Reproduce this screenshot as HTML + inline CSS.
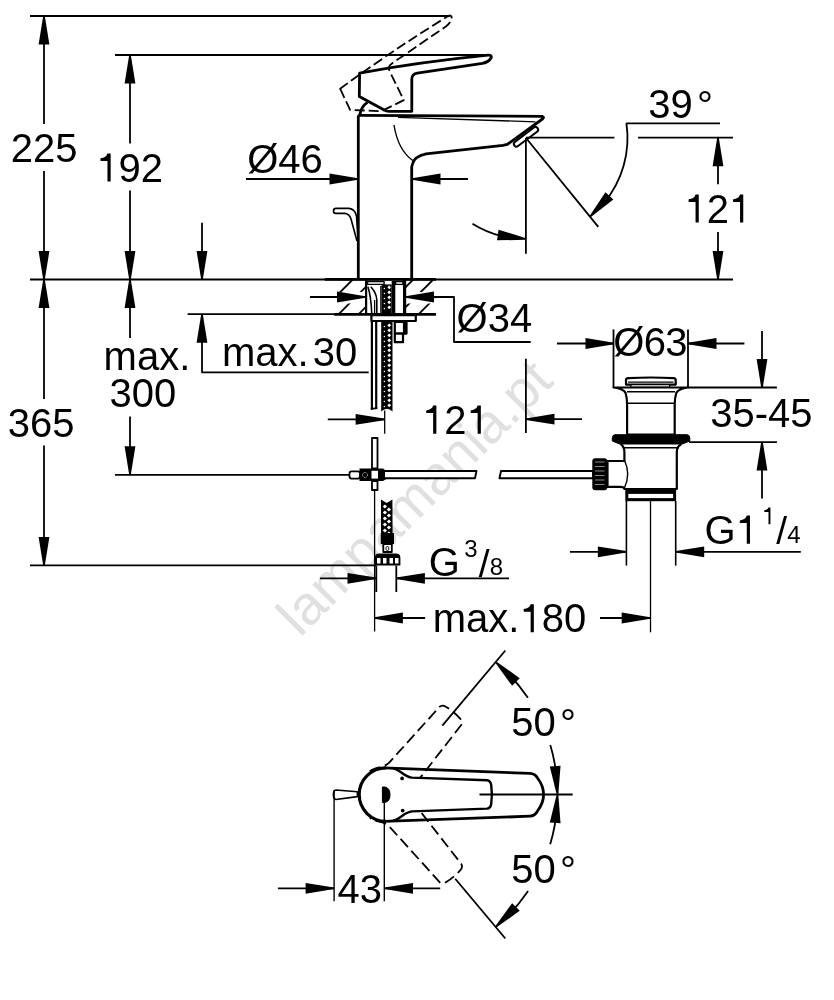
<!DOCTYPE html><html><head><meta charset="utf-8"><style>html,body{margin:0;padding:0;background:#fff;width:834px;height:1000px;overflow:hidden}svg{display:block;will-change:transform} text{font-family:"Liberation Sans",sans-serif;stroke:none}</style></head><body><svg width="834" height="1000" viewBox="0 0 834 1000"><rect width="834" height="1000" fill="#fff"/><text x="0" y="0" font-size="55" fill="#e0e0e0" stroke="none" transform="translate(300.1,638.1) rotate(-45)">lampamania.pt</text><g stroke="#000" fill="#000" stroke-linecap="butt" stroke-linejoin="round" font-family="Liberation Sans, sans-serif"><line x1="30" y1="16" x2="449.5" y2="16" stroke-width="1.8" /><line x1="115" y1="55" x2="489" y2="55" stroke-width="1.8" /><line x1="30" y1="279.5" x2="733" y2="279.5" stroke-width="1.8" /><line x1="115" y1="474.8" x2="350" y2="474.8" stroke-width="1.8" /><line x1="30" y1="565.4" x2="376" y2="565.4" stroke-width="1.8" /><line x1="44" y1="16" x2="44" y2="124" stroke-width="1.8" /><polygon points="44.80,16.00 49.40,44.50 38.60,44.50 43.20,16.00" stroke="none" fill="#000"/><line x1="44" y1="171" x2="44" y2="279.5" stroke-width="1.8" /><polygon points="43.20,279.50 38.60,251.00 49.40,251.00 44.80,279.50" stroke="none" fill="#000"/><line x1="44" y1="279.5" x2="44" y2="399" stroke-width="1.8" /><polygon points="44.80,279.50 49.40,308.00 38.60,308.00 43.20,279.50" stroke="none" fill="#000"/><line x1="44" y1="445.5" x2="44" y2="565.4" stroke-width="1.8" /><polygon points="43.20,565.40 38.60,536.90 49.40,536.90 44.80,565.40" stroke="none" fill="#000"/><line x1="130" y1="55" x2="130" y2="143.5" stroke-width="1.8" /><polygon points="130.80,55.00 135.40,83.50 124.60,83.50 129.20,55.00" stroke="none" fill="#000"/><line x1="130" y1="190.6" x2="130" y2="279.5" stroke-width="1.8" /><polygon points="129.20,279.50 124.60,251.00 135.40,251.00 130.80,279.50" stroke="none" fill="#000"/><line x1="130" y1="279.5" x2="130" y2="338" stroke-width="1.8" /><polygon points="130.80,279.50 135.40,308.00 124.60,308.00 129.20,279.50" stroke="none" fill="#000"/><line x1="130" y1="416.6" x2="130" y2="474.8" stroke-width="1.8" /><polygon points="129.20,474.80 124.60,446.30 135.40,446.30 130.80,474.80" stroke="none" fill="#000"/><line x1="202" y1="222.7" x2="202" y2="279.5" stroke-width="1.8" /><polygon points="201.20,279.50 196.60,251.00 207.40,251.00 202.80,279.50" stroke="none" fill="#000"/><line x1="187.6" y1="314.2" x2="334" y2="314.2" stroke-width="1.8" /><polyline points="202,314.2 202,372.3 368.7,372.3" fill="none" stroke-width="1.8" /><polygon points="202.80,314.20 207.40,342.70 196.60,342.70 201.20,314.20" stroke="none" fill="#000"/><text x="10.70" y="161.90" font-size="40">225</text><path stroke="none" fill="#000" d="M107.46,153.38 L110.66,153.38 L110.66,181.50 L107.46,181.50 L107.46,160.90 L100.62,160.90 Q100.22,159.58 100.62,158.22 Q106.30,157.70 107.46,153.38 Z"/><text x="118.55" y="181.50" font-size="40">92</text><text x="7.80" y="436.90" font-size="40">365</text><text x="103.60" y="370.20" font-size="40">max.</text><text x="109.40" y="406.50" font-size="40">300</text><text x="247.20" y="172.80" font-size="40">Ø46</text><text x="221.90" y="365.80" font-size="40">max.</text><text x="312.80" y="366.00" font-size="40">30</text><text x="456.60" y="332.30" font-size="40">Ø34</text><path stroke="none" fill="#000" d="M433.16,405.58 L436.36,405.58 L436.36,433.70 L433.16,433.70 L433.16,413.10 L426.32,413.10 Q425.92,411.78 426.32,410.42 Q432.00,409.90 433.16,405.58 Z"/><text x="444.25" y="433.70" font-size="40">2</text><path stroke="none" fill="#000" d="M477.65,405.58 L480.85,405.58 L480.85,433.70 L477.65,433.70 L477.65,413.10 L470.81,413.10 Q470.41,411.78 470.81,410.42 Q476.49,409.90 477.65,405.58 Z"/><text x="648.30" y="117.60" font-size="40">39</text><text x="697.10" y="119.00" font-size="40">°</text><path stroke="none" fill="#000" d="M695.56,194.48 L698.76,194.48 L698.76,222.60 L695.56,222.60 L695.56,202.00 L688.72,202.00 Q688.32,200.68 688.72,199.32 Q694.40,198.80 695.56,194.48 Z"/><text x="706.65" y="222.60" font-size="40">2</text><path stroke="none" fill="#000" d="M740.05,194.48 L743.25,194.48 L743.25,222.60 L740.05,222.60 L740.05,202.00 L733.21,202.00 Q732.81,200.68 733.21,199.32 Q738.89,198.80 740.05,194.48 Z"/><text x="613.30" y="356.40" font-size="40" letter-spacing="-0.7">Ø63</text><text x="710.20" y="427.30" font-size="40">35-45</text><text x="704.50" y="543.70" font-size="40">G</text><path stroke="none" fill="#000" d="M746.77,515.58 L749.97,515.58 L749.97,543.70 L746.77,543.70 L746.77,523.10 L739.93,523.10 Q739.53,521.78 739.93,520.42 Q745.61,519.90 746.77,515.58 Z"/><path stroke="none" fill="#000" d="M768.50,507.43 L770.42,507.43 L770.42,524.30 L768.50,524.30 L768.50,511.94 L764.39,511.94 Q764.15,511.15 764.39,510.33 Q767.80,510.02 768.50,507.43 Z"/><text x="776.30" y="543.70" font-size="39">/</text><text x="787.20" y="543.00" font-size="24">4</text><text x="428.80" y="576.40" font-size="40">G</text><text x="464.30" y="556.60" font-size="24">3</text><text x="478.80" y="576.60" font-size="39">/</text><text x="489.70" y="575.20" font-size="24">8</text><text x="432.80" y="632.30" font-size="40">max.</text><path stroke="none" fill="#000" d="M530.64,604.18 L533.84,604.18 L533.84,632.30 L530.64,632.30 L530.64,611.70 L523.80,611.70 Q523.40,610.38 523.80,609.02 Q529.48,608.50 530.64,604.18 Z"/><text x="541.73" y="632.30" font-size="40">80</text><text x="511.20" y="736.30" font-size="40">50</text><text x="560.10" y="737.10" font-size="40">°</text><text x="511.20" y="883.30" font-size="40">50</text><text x="560.10" y="884.10" font-size="40">°</text><text x="337.60" y="902.90" font-size="40">43</text><line x1="246" y1="179" x2="358" y2="179" stroke-width="1.8" /><polygon points="358.00,179.80 329.50,184.40 329.50,173.60 358.00,178.20" stroke="none" fill="#000"/><line x1="412" y1="179" x2="468" y2="179" stroke-width="1.8" /><polygon points="412.00,178.20 440.50,173.60 440.50,184.40 412.00,179.80" stroke="none" fill="#000"/><line x1="358.3" y1="115.3" x2="358.3" y2="279.5" stroke-width="2.8" /><path d="M543,116.3 L358.3,115.3" fill="none" stroke-width="2.8" /><path d="M398,117.4 L535.4,121.8" fill="none" stroke-width="1.3" /><path d="M541,116.3 Q545,116.8 542.5,119 L507.3,144.4 Q505,145 503,145.4 L426,153.8 Q414,156.5 412.5,164 L411.7,167 L411.7,279.5" fill="none" stroke-width="2.8" /><g transform="translate(526,136.8) rotate(-37)"><rect x="-14.5" y="-2.6" width="29" height="5.2" rx="2.6" fill="#fff" stroke-width="2"/></g><path d="M394,125 Q398,150 412.7,160.5" fill="none" stroke-width="1.4" /><path d="M359.6,73.1 L359.3,96.5 L383.8,109.8 Q386,111.3 389.2,111.3 L411.8,111.3 L411.8,79 Q412,73.8 417.3,73.1 L482.4,63.4 Q489,62 491.3,57.5 Q492,55 488,55.2 Q420,62 359.6,73.1 Z" fill="#fff" stroke-width="2.8" /><path d="M359.7,115 Q361.5,106 367.5,102.4" fill="none" stroke-width="2.8" /><path d="M359.6,73.1 L359.3,96.5 L383.8,109.8 Q386,111.3 389.2,111.3 L411.8,111.3 L411.8,79 Q412,73.8 417.3,73.1 L482.4,63.4 Q489,62 491.3,57.5 Q492,55 488,55.2 Q420,62 359.6,73.1 Z" fill="none" stroke-width="1.8" transform="rotate(-26 383.7 123.1)" stroke-dasharray="10 4"/><path d="M336,208.4 L349,208.4 Q355,209 356.5,216 L358.2,242" fill="none" stroke-width="1.6" /><path d="M336,213.4 L345,213.4 Q349.5,214 351,219 L357,241" fill="none" stroke-width="1.6" /><path d="M336,208.4 Q333.5,208.4 333.5,210.9 Q333.5,213.4 336,213.4" fill="none" stroke-width="1.6" /><line x1="525.9" y1="138" x2="525.9" y2="253.7" stroke-width="1.8" /><line x1="525.9" y1="137.7" x2="614.4" y2="137.7" stroke-width="1.8" /><line x1="638" y1="137.7" x2="733" y2="137.7" stroke-width="1.8" /><line x1="626.5" y1="123.3" x2="720" y2="123.3" stroke-width="1.8" /><line x1="526" y1="138" x2="598.3" y2="226.9" stroke-width="1.8" /><path d="M626.39,123.00 A101.5,101.5 0 0 1 603.75,203.24" fill="none" stroke-width="1.8" /><polygon points="589.43,216.22 605.44,192.20 613.36,199.55 590.60,217.31" stroke="none" fill="#000"/><path d="M472.48,223.65 A101,101 0 0 0 501.57,236.00" fill="none" stroke-width="1.8" /><polygon points="525.89,239.79 497.02,240.34 498.54,229.65 526.11,238.21" stroke="none" fill="#000"/><line x1="718" y1="137.7" x2="718" y2="184.3" stroke-width="1.8" /><polygon points="718.80,137.70 723.40,166.20 712.60,166.20 717.20,137.70" stroke="none" fill="#000"/><line x1="718" y1="232" x2="718" y2="279.5" stroke-width="1.8" /><polygon points="717.20,279.50 712.60,251.00 723.40,251.00 718.80,279.50" stroke="none" fill="#000"/><clipPath id="hl"><polygon points="324.8,279.3 366,279.3 366,314.3 334.1,314.3"/></clipPath><clipPath id="hr"><polygon points="403.5,279.3 436,279.3 436,314.3 403.5,314.3"/></clipPath><g clip-path="url(#hl)" stroke-width="1.8"><line x1="318" y1="314.3" x2="353" y2="279.3"/><line x1="338.5" y1="314.3" x2="373.5" y2="279.3"/><line x1="358.5" y1="314.3" x2="393.5" y2="279.3"/><line x1="378.5" y1="314.3" x2="413.5" y2="279.3"/><line x1="398.5" y1="314.3" x2="433.5" y2="279.3"/><line x1="418.5" y1="314.3" x2="453.5" y2="279.3"/><line x1="438.5" y1="314.3" x2="473.5" y2="279.3"/></g><g clip-path="url(#hr)" stroke-width="1.8"><line x1="318" y1="314.3" x2="353" y2="279.3"/><line x1="338.5" y1="314.3" x2="373.5" y2="279.3"/><line x1="358.5" y1="314.3" x2="393.5" y2="279.3"/><line x1="378.5" y1="314.3" x2="413.5" y2="279.3"/><line x1="398.5" y1="314.3" x2="433.5" y2="279.3"/><line x1="418.5" y1="314.3" x2="453.5" y2="279.3"/><line x1="438.5" y1="314.3" x2="473.5" y2="279.3"/></g><rect x="326" y="292" width="40" height="11.5" fill="#fff" stroke="none"/><rect x="405.5" y="292" width="30" height="11.5" fill="#fff" stroke="none"/><line x1="324.8" y1="279.3" x2="436" y2="279.3" stroke-width="2.8" /><line x1="334.1" y1="314.3" x2="436" y2="314.3" stroke-width="2.8" /><line x1="310" y1="297" x2="366" y2="297" stroke-width="1.8" /><polygon points="365.50,297.80 337.00,302.40 337.00,291.60 365.50,296.20" stroke="none" fill="#000"/><polyline points="405.5,297 454,297 454,342 530.7,342" fill="none" stroke-width="1.8" /><polygon points="405.50,296.20 434.00,291.60 434.00,302.40 405.50,297.80" stroke="none" fill="#000"/><line x1="366.1" y1="279.3" x2="366.1" y2="314.3" stroke-width="2.2" /><rect x="391.7" y="281" width="3.6" height="33.3" fill="#000" stroke="none"/><rect x="402.9" y="279.3" width="3.3" height="35" fill="#000" stroke="none"/><rect x="367.5" y="281.6" width="16.6" height="2.8" fill="#fff" stroke-width="1.4"/><rect x="395.6" y="281.6" width="7.3" height="2.8" fill="#fff" stroke-width="1.4"/><rect x="396" y="286.8" width="6.9" height="26" fill="#fff" stroke="none"/><path d="M367.9,286.8 Q371,296 371.8,314" fill="none" stroke-width="1.6" /><path d="M370.8,286.8 Q376.5,293 376.8,300 L376.8,314" fill="none" stroke-width="1.6" /><line x1="374.6" y1="300" x2="374.6" y2="314.3" stroke-width="1.3" /><line x1="380.9" y1="286" x2="380.9" y2="314.3" stroke-width="1.4" /><rect x="381.6" y="284.4" width="10.1" height="30" fill="#000" stroke="none"/><rect x="387.9" y="286" width="2.6" height="2.6" transform="rotate(45 389.2 287.3)" fill="#fff" stroke="none"/><circle cx="384.4" cy="288.5" r="0.75" fill="#fff" stroke="none"/><rect x="387.9" y="291" width="2.6" height="2.6" transform="rotate(45 389.2 292.3)" fill="#fff" stroke="none"/><circle cx="384.4" cy="293.5" r="0.75" fill="#fff" stroke="none"/><rect x="387.9" y="296" width="2.6" height="2.6" transform="rotate(45 389.2 297.3)" fill="#fff" stroke="none"/><circle cx="384.4" cy="298.5" r="0.75" fill="#fff" stroke="none"/><rect x="387.9" y="301" width="2.6" height="2.6" transform="rotate(45 389.2 302.3)" fill="#fff" stroke="none"/><circle cx="384.4" cy="303.5" r="0.75" fill="#fff" stroke="none"/><rect x="387.9" y="306" width="2.6" height="2.6" transform="rotate(45 389.2 307.3)" fill="#fff" stroke="none"/><circle cx="384.4" cy="308.5" r="0.75" fill="#fff" stroke="none"/><rect x="371.4" y="315.2" width="44.4" height="5.8" fill="#fff" stroke-width="2.2"/><rect x="394.8" y="322" width="11.7" height="11.6" fill="#fff" stroke-width="2.2"/><rect x="402.9" y="322" width="3.6" height="11.6" fill="#000" stroke="none"/><rect x="394.8" y="333.6" width="8.2" height="8.6" fill="#fff" stroke-width="2.2"/><line x1="371.9" y1="321" x2="371.9" y2="409.2" stroke-width="2.2" /><line x1="376.2" y1="321" x2="376.2" y2="409.2" stroke-width="2.2" /><line x1="370.8" y1="409.2" x2="377.3" y2="407.8" stroke-width="1.8" /><path d="M381.2,321 L392.5,321 L392.5,411.6 Q387,406 381.2,411.6 Z" fill="#000" stroke="none"/><rect x="387.9" y="324" width="2.6" height="2.6" transform="rotate(45 389.2 325.3)" fill="#fff" stroke="none"/><circle cx="384.4" cy="326.5" r="0.75" fill="#fff" stroke="none"/><rect x="387.9" y="329" width="2.6" height="2.6" transform="rotate(45 389.2 330.3)" fill="#fff" stroke="none"/><circle cx="384.4" cy="331.5" r="0.75" fill="#fff" stroke="none"/><rect x="387.9" y="334" width="2.6" height="2.6" transform="rotate(45 389.2 335.3)" fill="#fff" stroke="none"/><circle cx="384.4" cy="336.5" r="0.75" fill="#fff" stroke="none"/><rect x="387.9" y="339" width="2.6" height="2.6" transform="rotate(45 389.2 340.3)" fill="#fff" stroke="none"/><circle cx="384.4" cy="341.5" r="0.75" fill="#fff" stroke="none"/><rect x="387.9" y="344" width="2.6" height="2.6" transform="rotate(45 389.2 345.3)" fill="#fff" stroke="none"/><circle cx="384.4" cy="346.5" r="0.75" fill="#fff" stroke="none"/><rect x="387.9" y="349" width="2.6" height="2.6" transform="rotate(45 389.2 350.3)" fill="#fff" stroke="none"/><circle cx="384.4" cy="351.5" r="0.75" fill="#fff" stroke="none"/><rect x="387.9" y="354" width="2.6" height="2.6" transform="rotate(45 389.2 355.3)" fill="#fff" stroke="none"/><circle cx="384.4" cy="356.5" r="0.75" fill="#fff" stroke="none"/><rect x="387.9" y="359" width="2.6" height="2.6" transform="rotate(45 389.2 360.3)" fill="#fff" stroke="none"/><circle cx="384.4" cy="361.5" r="0.75" fill="#fff" stroke="none"/><rect x="387.9" y="364" width="2.6" height="2.6" transform="rotate(45 389.2 365.3)" fill="#fff" stroke="none"/><circle cx="384.4" cy="366.5" r="0.75" fill="#fff" stroke="none"/><rect x="387.9" y="369" width="2.6" height="2.6" transform="rotate(45 389.2 370.3)" fill="#fff" stroke="none"/><circle cx="384.4" cy="371.5" r="0.75" fill="#fff" stroke="none"/><rect x="387.9" y="374" width="2.6" height="2.6" transform="rotate(45 389.2 375.3)" fill="#fff" stroke="none"/><circle cx="384.4" cy="376.5" r="0.75" fill="#fff" stroke="none"/><rect x="387.9" y="379" width="2.6" height="2.6" transform="rotate(45 389.2 380.3)" fill="#fff" stroke="none"/><circle cx="384.4" cy="381.5" r="0.75" fill="#fff" stroke="none"/><rect x="387.9" y="384" width="2.6" height="2.6" transform="rotate(45 389.2 385.3)" fill="#fff" stroke="none"/><circle cx="384.4" cy="386.5" r="0.75" fill="#fff" stroke="none"/><rect x="387.9" y="389" width="2.6" height="2.6" transform="rotate(45 389.2 390.3)" fill="#fff" stroke="none"/><circle cx="384.4" cy="391.5" r="0.75" fill="#fff" stroke="none"/><rect x="387.9" y="394" width="2.6" height="2.6" transform="rotate(45 389.2 395.3)" fill="#fff" stroke="none"/><circle cx="384.4" cy="396.5" r="0.75" fill="#fff" stroke="none"/><rect x="387.9" y="399" width="2.6" height="2.6" transform="rotate(45 389.2 400.3)" fill="#fff" stroke="none"/><circle cx="384.4" cy="401.5" r="0.75" fill="#fff" stroke="none"/><rect x="387.9" y="404" width="2.6" height="2.6" transform="rotate(45 389.2 405.3)" fill="#fff" stroke="none"/><circle cx="384.4" cy="406.5" r="0.75" fill="#fff" stroke="none"/><line x1="327.8" y1="419.4" x2="384.1" y2="419.4" stroke-width="1.8" /><polygon points="384.10,420.20 355.60,424.80 355.60,414.00 384.10,418.60" stroke="none" fill="#000"/><line x1="384.7" y1="410.4" x2="384.7" y2="433.7" stroke-width="1.3" /><line x1="525.9" y1="358.7" x2="525.9" y2="433" stroke-width="1.8" /><line x1="526" y1="419.2" x2="582" y2="419.2" stroke-width="1.8" /><polygon points="526.00,418.40 554.50,413.80 554.50,424.60 526.00,420.00" stroke="none" fill="#000"/><rect x="372" y="438" width="5.5" height="30.5" fill="#fff" stroke-width="1.8"/><rect x="349.5" y="471.4" width="10.5" height="7.2" rx="2" fill="#fff" stroke-width="1.8"/><path d="M359.5,468.4 L383,468.4 L387,471.5 L387,478.5 L383,481 L359.5,481 Z" fill="#000" stroke="none"/><rect x="371.5" y="470.8" width="6.5" height="7.8" fill="#fff" stroke="none"/><circle cx="365" cy="475" r="2.5" fill="none" stroke="#fff" stroke-width="0.8" stroke-dasharray="1 1"/><rect x="372" y="481" width="5.5" height="9" fill="#fff" stroke-width="1.8"/><path d="M385,471 L476.5,471 L475,478.2 L385,478.2" fill="#fff" stroke-width="1.9"/><path d="M501,471 L593,471 L593,478.2 L499.5,478.2 Z" fill="#fff" stroke-width="1.9"/><line x1="374.6" y1="490" x2="374.6" y2="631.5" stroke-width="1.3" /><path d="M381,499.5 L386.7,503 L392.4,499.5 L392.6,534 L381,534 Z" fill="#000" stroke="none"/><rect x="383.4" y="505" width="3" height="3" transform="rotate(45 384.9 506.5)" fill="#fff" stroke="none"/><rect x="387.4" y="508" width="3" height="3" transform="rotate(45 388.9 509.5)" fill="#fff" stroke="none"/><rect x="383.4" y="511" width="3" height="3" transform="rotate(45 384.9 512.5)" fill="#fff" stroke="none"/><rect x="387.4" y="514" width="3" height="3" transform="rotate(45 388.9 515.5)" fill="#fff" stroke="none"/><rect x="383.4" y="517" width="3" height="3" transform="rotate(45 384.9 518.5)" fill="#fff" stroke="none"/><rect x="387.4" y="520" width="3" height="3" transform="rotate(45 388.9 521.5)" fill="#fff" stroke="none"/><rect x="383.4" y="523" width="3" height="3" transform="rotate(45 384.9 524.5)" fill="#fff" stroke="none"/><rect x="387.4" y="526" width="3" height="3" transform="rotate(45 388.9 527.5)" fill="#fff" stroke="none"/><rect x="383.4" y="529" width="3" height="3" transform="rotate(45 384.9 530.5)" fill="#fff" stroke="none"/><rect x="387.4" y="532" width="3" height="3" transform="rotate(45 388.9 533.5)" fill="#fff" stroke="none"/><rect x="380.8" y="533" width="13.2" height="11" fill="#000" stroke="none"/><rect x="383.3" y="544" width="8.5" height="8" fill="#fff" stroke-width="1.8"/><rect x="386" y="546.5" width="2.8" height="4" rx="1.4" fill="none" stroke-width="0.9"/><path d="M374.8,565.6 L374.8,558 Q374.8,553.6 379,553.6 L396,553.6 Q400.4,553.6 400.4,558 L400.4,565.6 Z" fill="#000" stroke="none"/><rect x="377" y="558" width="3.5" height="5.5" fill="#fff" stroke="none"/><rect x="383" y="558" width="3.5" height="5.5" fill="#fff" stroke="none"/><rect x="389.5" y="558" width="3.5" height="5.5" fill="#fff" stroke="none"/><rect x="395" y="558" width="3.5" height="5.5" fill="#fff" stroke="none"/><line x1="376.3" y1="565.6" x2="376.3" y2="592" stroke-width="1.8" /><line x1="396.3" y1="565.6" x2="396.3" y2="592" stroke-width="1.8" /><line x1="320" y1="578.3" x2="376" y2="578.3" stroke-width="1.8" /><polygon points="376.00,579.10 347.50,583.70 347.50,572.90 376.00,577.50" stroke="none" fill="#000"/><line x1="396.4" y1="578.3" x2="509" y2="578.3" stroke-width="1.8" /><polygon points="396.40,577.50 424.90,572.90 424.90,583.70 396.40,579.10" stroke="none" fill="#000"/><line x1="374.4" y1="618" x2="425.1" y2="618" stroke-width="1.8" /><polygon points="374.40,617.20 402.90,612.60 402.90,623.40 374.40,618.80" stroke="none" fill="#000"/><line x1="600" y1="618" x2="650.2" y2="618" stroke-width="1.8" /><polygon points="650.20,618.80 621.70,623.40 621.70,612.60 650.20,617.20" stroke="none" fill="#000"/><line x1="650.5" y1="493" x2="650.5" y2="632.3" stroke-width="1.3" /><line x1="557" y1="343.5" x2="614" y2="343.5" stroke-width="1.8" /><polygon points="614.00,344.30 585.50,348.90 585.50,338.10 614.00,342.70" stroke="none" fill="#000"/><line x1="688" y1="343.5" x2="744.4" y2="343.5" stroke-width="1.8" /><polygon points="688.00,342.70 716.50,338.10 716.50,348.90 688.00,344.30" stroke="none" fill="#000"/><line x1="613.5" y1="329.4" x2="613.5" y2="387.5" stroke-width="1.8" /><line x1="688" y1="329.4" x2="688" y2="387.5" stroke-width="1.8" /><line x1="688" y1="387.5" x2="776.9" y2="387.5" stroke-width="1.8" /><line x1="689" y1="442.1" x2="776.9" y2="442.1" stroke-width="1.8" /><line x1="762" y1="331" x2="762" y2="387.5" stroke-width="1.8" /><polygon points="761.20,387.50 756.60,359.00 767.40,359.00 762.80,387.50" stroke="none" fill="#000"/><line x1="762" y1="442.1" x2="762" y2="498.6" stroke-width="1.8" /><polygon points="762.80,442.10 767.40,470.60 756.60,470.60 761.20,442.10" stroke="none" fill="#000"/><path d="M626,384.6 L626,380 Q626,378.4 628.5,378.2 Q651,376.8 673.2,378.2 Q675.7,378.4 675.7,380 L675.7,384.6 Z" fill="#fff" stroke-width="2.2" /><line x1="628" y1="382.2" x2="673.5" y2="382.2" stroke-width="1.3" /><rect x="630.9" y="384.6" width="38.8" height="2.8" fill="#fff" stroke-width="1.3"/><path d="M613.5,387.5 L688,387.5 Q678,389 676.3,393 Q674.7,398 674.7,405 L674.7,434.7 L627.1,434.7 L627.1,405 Q627.1,398 625.6,393 Q624,389 613.5,387.5 Z" fill="#fff" stroke-width="2.2" /><line x1="627" y1="391.7" x2="675" y2="391.7" stroke-width="1.4" /><line x1="627" y1="403.2" x2="675" y2="403.2" stroke-width="1.4" /><path d="M615,434.7 L687,434.7 Q689.8,435 689.8,438 L689.8,441 L681,444.5 L621,444.5 L612.3,441 L612.3,438 Q612.3,435 615,434.7 Z" fill="#000" stroke-width="1" /><path d="M621,444.5 Q624.4,446.5 624.4,452 L624.4,461 L607.5,461 L607.5,486.9 L620,486.9 Q624.4,487 624.4,489 L676.8,489 L676.8,452 Q676.8,446.5 681,444.5" fill="#fff" stroke-width="2.2" /><line x1="622.5" y1="447.7" x2="679" y2="447.7" stroke-width="1.4" /><path d="M624.4,460 Q631,474 624.4,488" fill="none" stroke-width="1.4" /><rect x="592.3" y="458.2" width="15" height="32" rx="3" fill="#000" stroke="none"/><rect x="595" y="461.5" width="9.5" height="1" fill="#888" stroke="none"/><rect x="595" y="466" width="9.5" height="1" fill="#888" stroke="none"/><rect x="595" y="470.5" width="9.5" height="1" fill="#888" stroke="none"/><rect x="595" y="475" width="9.5" height="1" fill="#888" stroke="none"/><rect x="595" y="479.5" width="9.5" height="1" fill="#888" stroke="none"/><rect x="595" y="484" width="9.5" height="1" fill="#888" stroke="none"/><rect x="625.3" y="490" width="50.8" height="11.2" fill="#000" stroke="none"/><rect x="628.3" y="493.9" width="44.8" height="4.2" fill="#fff" stroke="none"/><line x1="626.4" y1="501" x2="626.4" y2="565.6" stroke-width="1.6" /><line x1="675.7" y1="501" x2="675.7" y2="565.6" stroke-width="1.6" /><line x1="570" y1="551.8" x2="626.4" y2="551.8" stroke-width="1.8" /><polygon points="626.40,552.60 597.90,557.20 597.90,546.40 626.40,551.00" stroke="none" fill="#000"/><line x1="675.7" y1="551.8" x2="800.8" y2="551.8" stroke-width="1.8" /><polygon points="675.70,551.00 704.20,546.40 704.20,557.20 675.70,552.60" stroke="none" fill="#000"/><path d="M393,768.3 C401,770 404,777 412,777.6 L487,780.3 Q490.5,780.7 491.2,785 Q492.6,794.5 491.2,804 Q490.5,808.3 487,808.6 L412,811.4 C404,812 401,819 393,820.7" fill="none" stroke-width="1.8" transform="rotate(-50 384.5 794.5)" stroke-dasharray="11 5"/><path d="M393,768.3 C401,770 404,777 412,777.6 L487,780.3 Q490.5,780.7 491.2,785 Q492.6,794.5 491.2,804 Q490.5,808.3 487,808.6 L412,811.4 C404,812 401,819 393,820.7" fill="none" stroke-width="1.8" transform="rotate(50 384.5 794.5)" stroke-dasharray="11 5"/><path d="M393,768.3 C401,770 404,777 412,777.6 L487,780.3 Q490.5,780.7 491.2,785 Q492.6,794.5 491.2,804 Q490.5,808.3 487,808.6 L412,811.4 C404,812 401,819 393,820.7 A27,27 0 1 1 393,768.3 Z" fill="#fff" stroke-width="0" stroke="none"/><path d="M384,767.8 L530,773.4 Q535,773.6 537.5,778 Q543.6,786 543.6,794.5 Q543.6,803 537.5,811 Q535,816 530,816.2 L384,821.4" fill="none" stroke-width="2.8" /><path d="M386,767.8 A26.8,26.8 0 1 0 386,821.4" fill="none" stroke-width="3.2" /><path d="M393,768.3 C401,770 404,777 412,777.6 L487,780.3 Q490.5,780.7 491.2,785 Q492.6,794.5 491.2,804 Q490.5,808.3 487,808.6 L412,811.4 C404,812 401,819 393,820.7" fill="none" stroke-width="2.4" /><circle cx="402.1" cy="778.4" r="1.9" fill="#000" stroke="none"/><circle cx="402.7" cy="810.6" r="1.9" fill="#000" stroke="none"/><path d="M382.4,787 L385,787 Q390,788 390,794.7 Q390,801.5 385,802.4 L382.4,802.4 Z" fill="#000" stroke-width="1" /><line x1="384.3" y1="802" x2="384.3" y2="901.2" stroke-width="1.4" /><path d="M336,790 L357.4,791.8 L357.4,796.6 L336,799.5 Q333.4,799 333.4,794.7 Q333.4,790.4 336,790 Z" fill="#fff" stroke-width="1.6" /><line x1="334.1" y1="790" x2="334.1" y2="901.2" stroke-width="1.4" /><line x1="442.35" y1="725.56" x2="505.34" y2="650.48" stroke-width="1.8" /><line x1="455.21" y1="878.76" x2="505.34" y2="938.52" stroke-width="1.8" /><line x1="479.5" y1="794.5" x2="572.7" y2="794.5" stroke-width="1.8" /><path d="M504.68,670.05 A173,173 0 0 1 527.92,697.76" fill="none" stroke-width="1.8" /><polygon points="496.27,661.41 519.75,678.19 512.15,685.86 495.14,662.54" stroke="none" fill="#000"/><path d="M550.29,745.08 A173,173 0 0 1 557.08,782.43" fill="none" stroke-width="1.8" /><polygon points="556.70,794.57 549.77,766.54 560.54,765.65 558.30,794.43" stroke="none" fill="#000"/><polygon points="558.30,794.57 560.54,823.35 549.77,822.46 556.70,794.43" stroke="none" fill="#000"/><path d="M557.08,806.57 A173,173 0 0 1 550.20,844.21" fill="none" stroke-width="1.8" /><path d="M528.09,890.99 A173,173 0 0 1 504.68,918.95" fill="none" stroke-width="1.8" /><polygon points="495.14,926.46 512.15,903.14 519.75,910.81 496.27,927.59" stroke="none" fill="#000"/><line x1="277.9" y1="888.3" x2="334.1" y2="888.3" stroke-width="1.8" /><polygon points="334.10,889.10 305.60,893.70 305.60,882.90 334.10,887.50" stroke="none" fill="#000"/><line x1="384.5" y1="888.3" x2="440.2" y2="888.3" stroke-width="1.8" /><polygon points="384.50,887.50 413.00,882.90 413.00,893.70 384.50,889.10" stroke="none" fill="#000"/></g></svg></body></html>
